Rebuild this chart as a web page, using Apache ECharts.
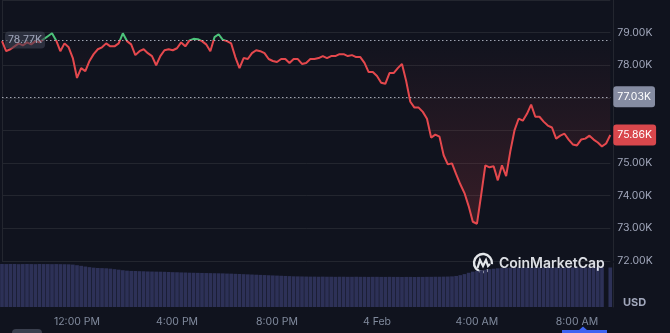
<!DOCTYPE html>
<html><head><meta charset="utf-8">
<script src="https://cdn.jsdelivr.net/npm/echarts@6/dist/echarts.min.js"></script>
<style>html,body{margin:0;padding:0;background:#10131e;}#c{width:670px;height:333px;}</style>
</head><body><div id="c"></div>
<script>
// time categories: 10-minute steps from 3 Feb 09:00 to 4 Feb 09:20
const startDay = 3, startHour = 9, stepMinutes = 10, pointCount = 147;
const categories = [];
for (let i = 0; i < pointCount; i++) {
  const m = startHour * 60 + i * stepMinutes;
  const d = startDay + Math.floor(m / 1440);
  const mm = m % 1440;
  categories.push(d + ' ' + String(Math.floor(mm / 60)).padStart(2, '0') + ':' + String(mm % 60).padStart(2, '0'));
}

// BTC price, thousands USD
const price = [
  78.74,78.43,78.49,78.58,78.67,78.61,78.70,78.64,78.74,78.70,
  78.80,78.89,78.98,78.76,78.43,78.67,78.55,78.22,77.61,77.91,
  77.82,78.13,78.34,78.49,78.55,78.67,78.58,78.58,78.67,78.98,
  78.74,78.64,78.31,78.43,78.49,78.37,78.28,78.00,78.28,78.46,
  78.49,78.46,78.52,78.70,78.58,78.76,78.81,78.80,78.74,78.64,
  78.43,78.86,78.95,78.78,78.74,78.67,78.25,77.91,78.22,78.19,
  78.37,78.46,78.43,78.37,78.19,78.13,78.10,78.19,78.19,78.07,
  78.19,78.19,78.04,78.07,78.19,78.19,78.22,78.28,78.22,78.28,
  78.28,78.34,78.34,78.28,78.31,78.25,78.25,78.07,77.79,77.79,
  77.67,77.46,77.43,77.76,77.76,77.91,78.04,77.52,76.88,76.70,
  76.70,76.57,76.36,75.78,75.87,75.81,75.24,74.96,74.99,74.66,
  74.35,74.08,73.68,73.20,73.14,74.02,74.93,74.87,74.90,74.47,
  74.93,74.60,75.36,76.00,76.36,76.30,76.51,76.79,76.42,76.42,
  76.27,76.15,76.09,75.75,75.84,75.90,75.72,75.57,75.54,75.72,
  75.75,75.84,75.72,75.63,75.51,75.60,75.86
];

// 24h volume (billions USD)
const volume = [
  48.9,48.8,48.9,48.9,48.7,48.8,48.9,48.8,48.7,48.9,48.8,48.8,48.7,48.8,48.7,48.6,48.5,
  48.2,47.5,46.8,
  46.0,45.3,44.7,
  44.3,44.2,44.0,43.6,
  43.0,42.4,41.8,41.3,
  41.0,40.9,40.7,40.6,40.4,40.3,40.2,40.1,40.0,39.8,
  39.6,39.5,39.3,39.2,39.0,38.9,38.8,38.7,38.6,38.5,38.4,38.3,38.2,38.0,37.9,
  37.7,37.5,37.3,37.1,36.9,36.7,36.5,36.3,36.1,35.9,
  35.7,35.5,35.3,35.1,34.9,34.8,34.7,
  34.6,34.5,34.5,34.4,34.5,34.4,34.4,34.3,34.4,34.4,34.3,34.3,34.4,34.3,34.3,34.2,34.3,34.3,
  34.2,34.2,34.3,34.2,34.2,34.1,34.2,34.2,34.1,34.2,34.2,34.3,34.3,34.4,34.4,34.5,34.6,34.8,
  35.3,36.2,37.4,38.9,
  40.2,41.0,41.8,42.4,43.0,43.5,
  44.0,44.3,44.5,44.7,44.8,
  44.9,44.9,45.0,44.9,45.0,45.0,44.9,45.0,45.0,45.0,44.9,45.0,45.0,45.0,45.0,44.9,45.0,45.0,45.0,45.0,45.0,
  null,
  44.9
];

const tickLabels = { '12:00': '12:00 PM', '16:00': '4:00 PM', '20:00': '8:00 PM', '00:00': '4 Feb', '04:00': '4:00 AM', '08:00': '8:00 AM' };
const openPrice = 78.77, refPrice = 77.03, lastPrice = 75.86;
const priceMin = 72, priceMax = 80, priceStep = 1;
const volumeMax = 50;

const gridColor = '#23262f';
const labelColor = '#a1a7bb';
const fontFam = 'Inter';
const red = '#e5484d', green = '#4cc37a';

const chart = echarts.init(document.getElementById('c'), null, { renderer: 'canvas' });

const option = {
  backgroundColor: '#10131e',
  animation: false,
  grid: [
    { left: 2, right: 59.7, top: -2, height: 262.9 },
    { left: 2, right: 59.7, top: 263, height: 44 }
  ],
  xAxis: [
    { type: 'category', gridIndex: 0, data: categories, boundaryGap: false, show: false },
    { type: 'category', gridIndex: 1, data: categories, boundaryGap: false,
      axisLine: { show: false }, axisTick: { show: false }, splitLine: { show: false },
      axisLabel: {
        interval: (i, v) => tickLabels[v.slice(-5)] !== undefined,
        formatter: v => tickLabels[v.slice(-5)] || '',
        color: '#808a9d', fontSize: 10.5, fontFamily: fontFam, margin: 9
      } }
  ],
  yAxis: [
    { type: 'value', gridIndex: 0, position: 'right', min: priceMin, max: priceMax, interval: priceStep, offset: 3,
      axisLine: { show: true, lineStyle: { color: gridColor } }, axisTick: { show: false },
      splitLine: { show: true, lineStyle: { color: gridColor } },
      axisLabel: { showMaxLabel: false, formatter: v => v.toFixed(2) + 'K', color: labelColor, fontSize: 10.5, fontFamily: fontFam, margin: 4 } },
    { type: 'value', gridIndex: 0, position: 'left', min: priceMin, max: priceMax,
      axisLine: { show: true, lineStyle: { color: gridColor } }, axisTick: { show: false },
      axisLabel: { show: false }, splitLine: { show: false } },
    { type: 'value', gridIndex: 1, position: 'right', min: 0, max: volumeMax, offset: 3,
      axisLine: { show: true, lineStyle: { color: gridColor } }, axisTick: { show: false },
      axisLabel: { show: false }, splitLine: { show: false } }
  ],
  visualMap: {
    type: 'piecewise', show: false, seriesIndex: 0, dimension: 1,
    pieces: [{ gt: 0, lte: openPrice, color: red }, { gt: openPrice, lte: 1000, color: green }]
  },
  series: [
    { type: 'line', xAxisIndex: 0, yAxisIndex: 0, data: price, symbol: 'none', showSymbol: false, z: 3,
      lineStyle: { width: 2 },
      areaStyle: { origin: openPrice,
        color: new echarts.graphic.LinearGradient(0, 0, 0, 1, [
          { offset: 0, color: 'rgba(229,72,77,0)' },
          { offset: 1, color: 'rgba(229,72,77,0.26)' }
        ]) },
      markLine: {
        symbol: 'none', silent: true, animation: false,
        lineStyle: { type: [1.5, 2.5], color: 'rgba(210,215,228,0.75)', width: 1 },
        label: { show: false },
        data: [
          { yAxis: openPrice },
          { yAxis: refPrice, label: { show: true, position: 'end', distance: 3, formatter: refPrice.toFixed(2) + 'K',
            color: '#ffffff', backgroundColor: '#858ca2', padding: [5, 4], borderRadius: 3, fontSize: 10.5, fontFamily: fontFam } },
          { yAxis: lastPrice, lineStyle: { color: 'rgba(0,0,0,0)', width: 0.01 }, label: { show: true, position: 'end', distance: 3, formatter: lastPrice.toFixed(2) + 'K',
            color: '#ffffff', backgroundColor: '#d9474c', padding: [5, 4], borderRadius: 3, fontSize: 10.5, fontFamily: fontFam } }
        ]
      } },
    { type: 'bar', xAxisIndex: 1, yAxisIndex: 2, data: volume, barCategoryGap: '12%', silent: true,
      itemStyle: { color: '#2d3157' } }
  ]
};
chart.setOption(option);

const yOpen = chart.convertToPixel({ yAxisIndex: 0 }, openPrice);
chart.setOption({
  graphic: [
    { type: 'text', x: 5, y: yOpen, z: 100,
      style: { text: openPrice.toFixed(2) + 'K', fill: labelColor, font: '10.5px Inter',
        backgroundColor: 'rgba(62,66,82,0.6)', padding: [3, 3, 3, 3], borderRadius: 4, verticalAlign: 'middle', align: 'left' } },
    { type: 'text', x: 623, y: 303, z: 100,
      style: { text: 'USD', fill: labelColor, font: 'bold 11px Inter', verticalAlign: 'middle', align: 'left' } },
    { type: 'group', x: 483, y: 263, z: 100, children: [
      { type: 'arc', shape: { cx: 0, cy: 0, r: 9, startAngle: 0.9, endAngle: 0.9 + Math.PI * 1.75 },
        style: { stroke: 'rgba(240,242,246,0.95)', lineWidth: 2.4, fill: null } },
      { type: 'polyline', shape: { points: [[-5.5, 5], [-3, -3], [0, 3], [3, -3], [5, 3], [7, 1]] },
        style: { stroke: 'rgba(240,242,246,0.95)', lineWidth: 2.2, fill: null } }
    ] },
    { type: 'text', x: 499, y: 264, z: 100,
      style: { text: 'CoinMarketCap', fill: 'rgba(236,238,243,0.93)', font: '600 14px Inter', verticalAlign: 'middle', align: 'left' } },
    { type: 'rect', z: 100, shape: { x: 12, y: 329, width: 30, height: 10, r: 4 }, style: { fill: '#3a3f4e' } },
    { type: 'polygon', z: 100, shape: { points: [[562, 330], [579, 330], [583, 326.5], [587, 330], [607, 330], [607, 334], [562, 334]] },
      style: { fill: '#3d63f0' } }
  ]
});
</script>
</body></html>
